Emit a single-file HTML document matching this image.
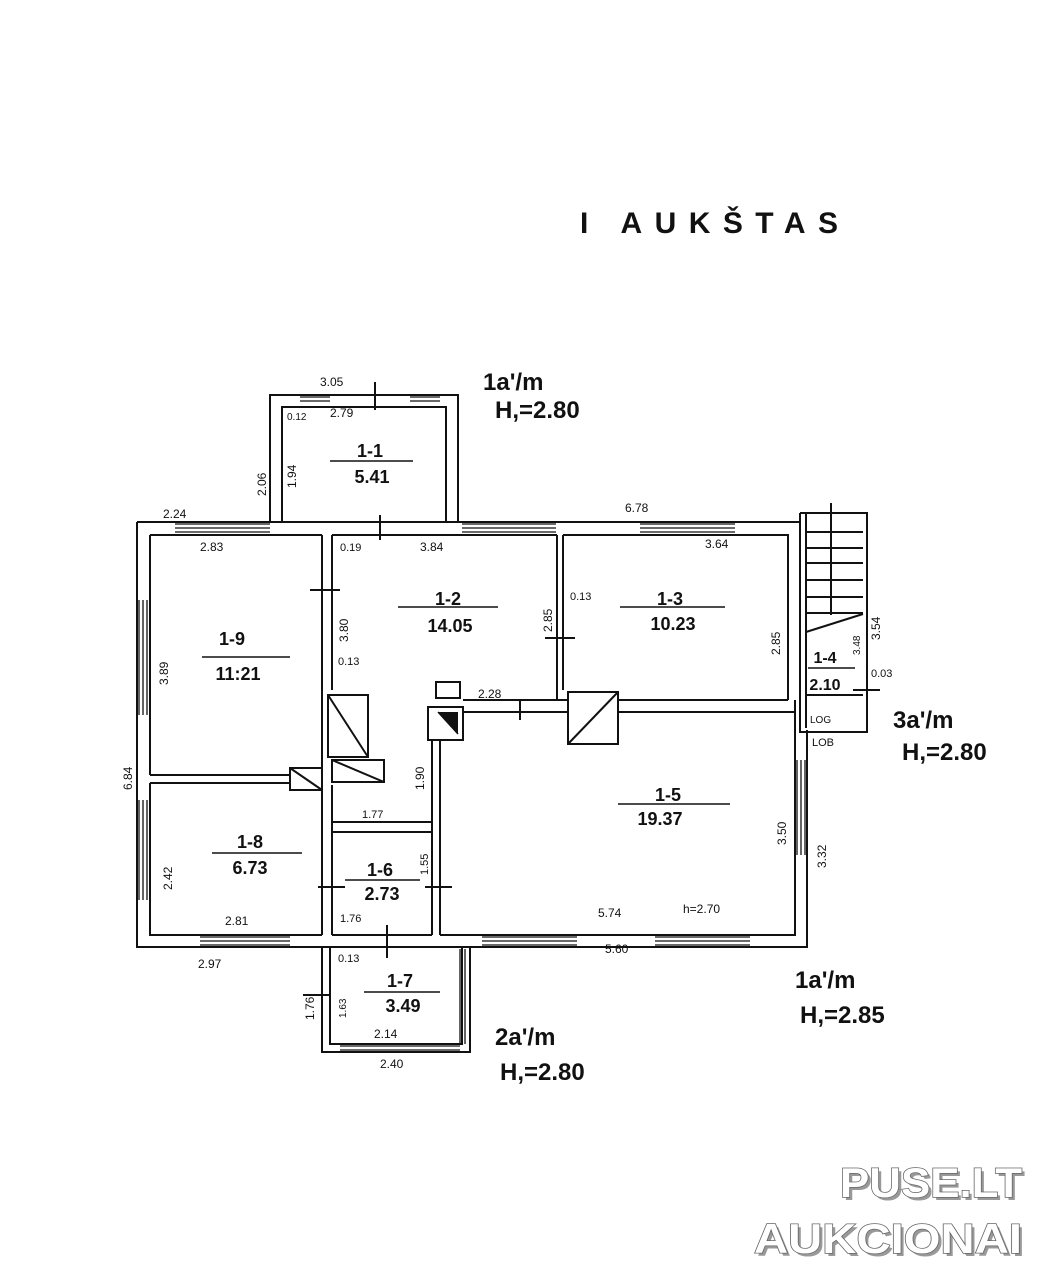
<!DOCTYPE html>
<html><head><meta charset="utf-8"><style>
html,body{margin:0;padding:0;background:#fff;}
svg{display:block}
.t{font-family:"Liberation Sans",sans-serif;fill:#111}
</style></head><body>
<svg width="1053" height="1280" viewBox="0 0 1053 1280" xmlns="http://www.w3.org/2000/svg">
<rect width="1053" height="1280" fill="#fff"/>
<text x="580" y="233" class="t" font-size="30" font-weight="bold" textLength="258" lengthAdjust="spacing">I AUKŠTAS</text>

<g stroke="#111" stroke-width="2" fill="none">
<path d="M137 522 H800 M137 522 V947 H807 V730"/>
<path d="M150 535 H322 M332 535 H557 M563 535 H788 V700"/>
<path d="M150 535 V775 M150 783 V935 H322 M332 935 H432 M440 935 H795 V715"/>
<path d="M270 522 V395 H458 V522 M282 522 V407 H446 V522"/>
<path d="M322 535 V935 M332 535 V690 M332 785 V935"/>
<path d="M557 535 V700 M563 535 V690"/>
<path d="M463 700 H568 M618 700 H788 M463 712 H568 M618 712 H795"/>
<path d="M432 740 V935 M440 740 V935"/>
<path d="M150 775 H290 M150 783 H290"/>
<path d="M332 822 H432 M332 832 H432"/>
<path d="M800 513 H867 V732 H800 V513 M795 700 V935"/>
<path d="M806 513 V728"/>
<path d="M806 532 H863 M806 548 H863 M806 563 H863 M806 580 H863 M806 597 H863 M806 613 H863"/>
<path d="M831 503 V615 M806 632 L863 614"/>
<path d="M806 695 H863"/>
<path d="M322 947 V1052 H470 V947 M330 947 V1044 H462 V947"/>
<rect x="328" y="695" width="40" height="62"/>
<path d="M328 695 L368 757"/>
<rect x="332" y="760" width="52" height="22"/>
<path d="M332 760 L384 782"/>
<rect x="290" y="768" width="32" height="22"/>
<path d="M290 768 L322 790"/>
<rect x="428" y="707" width="35" height="33"/>
<rect x="568" y="692" width="50" height="52"/>
<path d="M568 744 L618 692"/>
<rect x="436" y="682" width="24" height="16"/>
<path d="M310 590 H340 M545 638 H575 M375 382 V410 M380 515 V540 M318 887 H345 M425 887 H452 M387 925 V958 M520 700 V720 M303 995 H330 M853 690 H880"/>
</g>
<polygon points="438,712 458,712 458,734" fill="#111"/>
<path d="M438 712 L458 734" stroke="#111" stroke-width="1.5"/>
<g stroke="#111" stroke-width="1.3">
<path d="M175 524 H270 M175 528 H270 M175 532 H270"/>
<path d="M462 524 H556 M462 528 H556 M462 532 H556"/>
<path d="M640 524 H735 M640 528 H735 M640 532 H735"/>
<path d="M300 397 H330 M300 401 H330 M410 397 H440 M410 401 H440"/>
<path d="M139 600 V715 M143 600 V715 M147 600 V715"/>
<path d="M139 800 V900 M143 800 V900 M147 800 V900"/>
<path d="M200 937 H290 M200 941 H290 M200 945 H290"/>
<path d="M482 937 H577 M482 941 H577 M482 945 H577"/>
<path d="M655 937 H750 M655 941 H750 M655 945 H750"/>
<path d="M797 760 V855 M801 760 V855 M805 760 V855"/>
<path d="M460 949 V1044 M465 949 V1044"/>
<path d="M340 1046 H460 M340 1050 H460"/>
</g>
<g class="t" font-weight="bold" text-anchor="middle" font-size="18">
<text x="370" y="457">1-1</text><text x="372" y="483">5.41</text>
<text x="448" y="605">1-2</text><text x="450" y="632">14.05</text>
<text x="670" y="605">1-3</text><text x="673" y="630">10.23</text>
<text x="232" y="645">1-9</text><text x="238" y="680">11:21</text>
<text x="825" y="663" font-size="16">1-4</text><text x="825" y="690" font-size="16">2.10</text>
<text x="668" y="801">1-5</text><text x="660" y="825">19.37</text>
<text x="250" y="848">1-8</text><text x="250" y="874">6.73</text>
<text x="380" y="876">1-6</text><text x="382" y="900">2.73</text>
<text x="400" y="987">1-7</text><text x="403" y="1012">3.49</text>
</g>
<g stroke="#111" stroke-width="1.5">
<path d="M330 461 H413 M398 607 H498 M620 607 H725 M202 657 H290 M808 668 H855 M618 804 H730 M212 853 H302 M345 880 H420 M364 992 H440"/>
</g>
<g class="t" font-size="12">
<text x="320" y="386">3.05</text><text x="330" y="417">2.79</text><text x="287" y="420" font-size="10">0.12</text>
<text x="163" y="518">2.24</text><text x="200" y="551">2.83</text><text x="340" y="551" font-size="11">0.19</text><text x="420" y="551">3.84</text>
<text x="625" y="512">6.78</text><text x="705" y="548">3.64</text><text x="570" y="600" font-size="11">0.13</text>
<text x="338" y="665" font-size="11">0.13</text><text x="478" y="698">2.28</text><text x="810" y="723" font-size="10">LOG</text><text x="812" y="746" font-size="11">LOB</text>
<text x="871" y="677" font-size="11">0.03</text><text x="362" y="818" font-size="11">1.77</text>
<text x="225" y="925">2.81</text><text x="340" y="922" font-size="11">1.76</text><text x="598" y="917">5.74</text><text x="683" y="913">h=2.70</text>
<text x="198" y="968">2.97</text><text x="605" y="953">5.60</text><text x="338" y="962" font-size="11">0.13</text>
<text x="374" y="1038">2.14</text><text x="380" y="1068">2.40</text>
</g>
<g class="t" font-size="12">
<text transform="translate(266,496) rotate(-90)">2.06</text>
<text transform="translate(296,488) rotate(-90)">1.94</text>
<text transform="translate(168,685) rotate(-90)">3.89</text>
<text transform="translate(132,790) rotate(-90)">6.84</text>
<text transform="translate(348,642) rotate(-90)">3.80</text>
<text transform="translate(552,632) rotate(-90)">2.85</text>
<text transform="translate(780,655) rotate(-90)">2.85</text>
<text transform="translate(880,640) rotate(-90)">3.54</text>
<text transform="translate(860,655) rotate(-90)" font-size="10">3.48</text>
<text transform="translate(424,790) rotate(-90)">1.90</text>
<text transform="translate(172,890) rotate(-90)">2.42</text>
<text transform="translate(428,875) rotate(-90)" font-size="11">1.55</text>
<text transform="translate(786,845) rotate(-90)">3.50</text>
<text transform="translate(826,868) rotate(-90)">3.32</text>
<text transform="translate(314,1020) rotate(-90)">1.76</text>
<text transform="translate(346,1018) rotate(-90)" font-size="10">1.63</text>
</g>
<g class="t" font-size="24" font-weight="bold">
<text x="483" y="390">1a'/m</text><text x="495" y="418">H,=2.80</text>
<text x="893" y="728">3a'/m</text><text x="902" y="760">H,=2.80</text>
<text x="795" y="988">1a'/m</text><text x="800" y="1023">H,=2.85</text>
<text x="495" y="1045">2a'/m</text><text x="500" y="1080">H,=2.80</text>
</g>
<g font-family="Liberation Sans,sans-serif" font-weight="bold" text-anchor="end">
<text x="1025" y="1200" font-size="42" fill="#999" textLength="182" lengthAdjust="spacingAndGlyphs">PUSE.LT</text>
<text x="1025" y="1256" font-size="42" fill="#999" textLength="268" lengthAdjust="spacingAndGlyphs">AUKCIONAI</text>
</g>
<g font-family="Liberation Sans,sans-serif" font-weight="bold" fill="#fff" stroke="#666" stroke-width="1.5" text-anchor="end" paint-order="stroke">
<text x="1022" y="1197" font-size="42" textLength="182" lengthAdjust="spacingAndGlyphs">PUSE.LT</text>
<text x="1022" y="1253" font-size="42" textLength="268" lengthAdjust="spacingAndGlyphs">AUKCIONAI</text>
</g>
</svg>
</body></html>
